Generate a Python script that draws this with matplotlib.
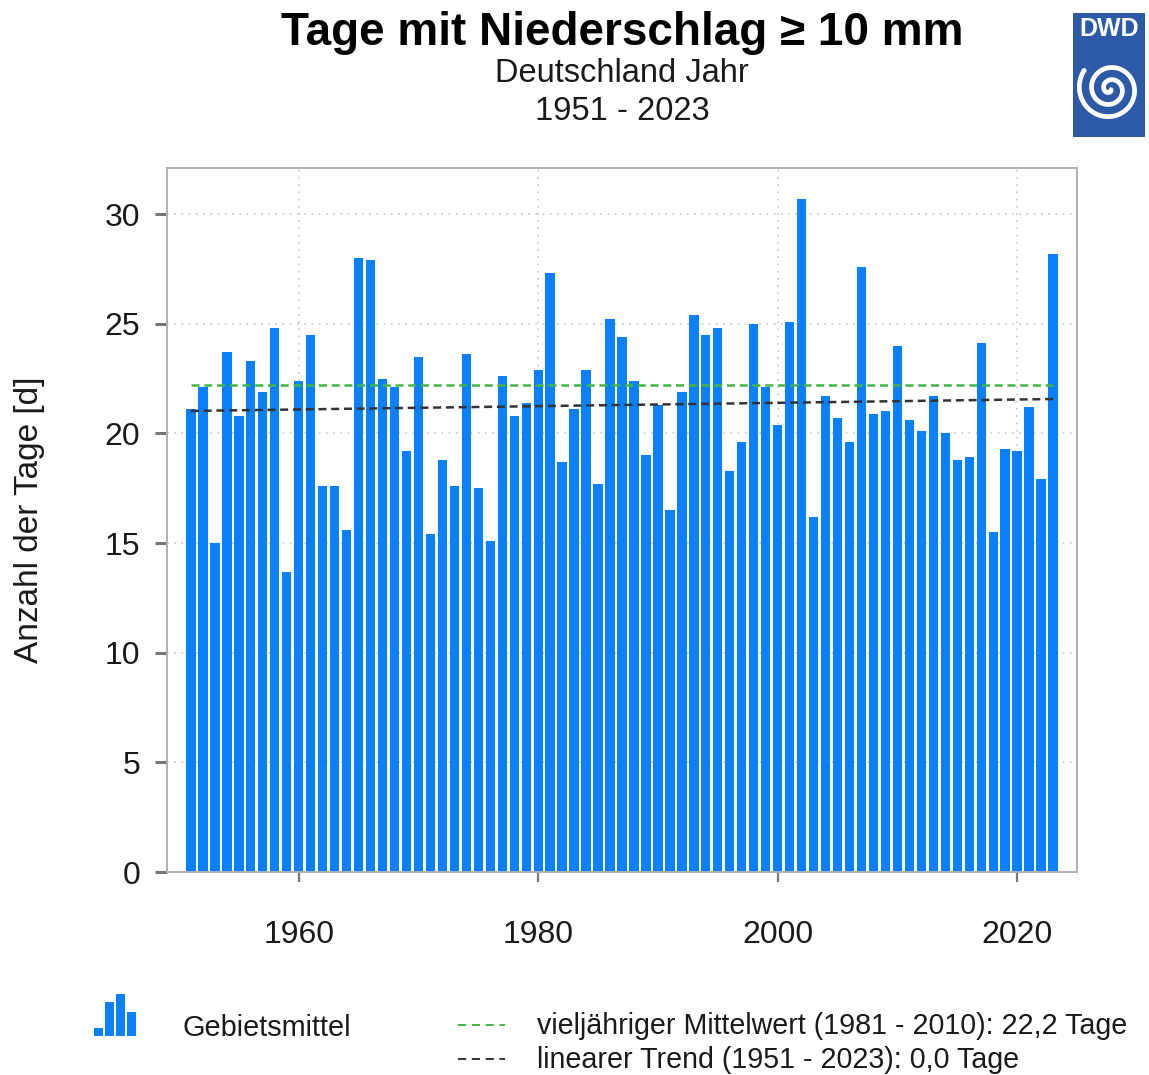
import numpy as np
import matplotlib.pyplot as plt
from matplotlib.patches import Rectangle
from matplotlib.lines import Line2D

plt.rcParams['font.family'] = ['Liberation Sans', 'DejaVu Sans']

# Tage mit Niederschlag >= 10 mm, Gebietsmittel Deutschland
years = np.arange(1951, 2024)
tage = [21.1, 22.1, 15.0, 23.7, 20.8, 23.3, 21.9, 24.8, 13.7, 22.4,
        24.5, 17.6, 17.6, 15.6, 28.0, 27.9, 22.5, 22.1, 19.2, 23.5,
        15.4, 18.8, 17.6, 23.6, 17.5, 15.1, 22.6, 20.8, 21.4, 22.9,
        27.3, 18.7, 21.1, 22.9, 17.7, 25.2, 24.4, 22.4, 19.0, 21.3,
        16.5, 21.9, 25.4, 24.5, 24.8, 18.3, 19.6, 25.0, 22.1, 20.4,
        25.1, 30.7, 16.2, 21.7, 20.7, 19.6, 27.6, 20.9, 21.0, 24.0,
        20.6, 20.1, 21.7, 20.0, 18.8, 18.9, 24.1, 15.5, 19.3, 19.2,
        21.2, 17.9, 28.2]
mittelwert = 22.2  # 1981 - 2010
yticks = [0, 5, 10, 15, 20, 25, 30]
xticks = [1960, 1980, 2000, 2020]

title = 'Tage mit Niederschlag ≥ 10 mm'
untertitel = 'Deutschland Jahr'
zeitraum = '1951 - 2023'
ylabel = 'Anzahl der Tage [d]'
leg_bar = 'Gebietsmittel'
leg_mittel = 'vieljähriger Mittelwert (1981 - 2010): 22,2 Tage'
leg_trend = 'linearer Trend (1951 - 2023): 0,0 Tage'

BLUE = '#0880ff'
GREEN = '#44b444'
DARK = '#333333'

W, H = 1149, 1075
fig = plt.figure(figsize=(W / 100, H / 100), dpi=100)


def box(x0, y0, x1, y1):
    # pixel box (origin top left) -> figure fraction
    return [x0 / W, 1 - y1 / H, (x1 - x0) / W, (y1 - y0) / H]


def fx(x):
    return x / W


def fy(y):
    return 1 - y / H


ax = fig.add_axes(box(167, 168, 1077, 872))
ax.bar(years, tage, width=0.78, color=BLUE, zorder=2)

# Mittelwert und linearer Trend
ax.plot([years[0], years[-1]], [mittelwert, mittelwert], color=GREEN,
        lw=1.8, ls=(0, (3.2, 1.9)), zorder=3)
k, d = np.polyfit(years, tage, 1)
ax.plot([years[0], years[-1]], [k * years[0] + d, k * years[-1] + d],
        color=DARK, lw=1.8, ls=(0, (3.2, 1.9)), zorder=3)

ax.set_xlim(1949, 2025)
ax.set_ylim(0, 32.1)
ax.set_xticks(xticks)
ax.set_yticks(yticks)
ax.set_axisbelow(True)
ax.grid(color='#cfcfcf', linestyle=(0, (1, 3)), lw=1.3)
for s in ax.spines.values():
    s.set_color('#b0b0b0')
    s.set_linewidth(1.4)
ax.tick_params(axis='y', length=8.6, width=2.2, color='#777777', pad=10.5,
               labelsize=23, labelcolor='#1a1a1a')
ax.tick_params(axis='x', length=7.5, width=1.6, color='#777777', pad=27,
               labelsize=23, labelcolor='#1a1a1a')

# Titel
cx = fx((167 + 1077) / 2)
fig.text(cx, fy(33), title, ha='center', va='center', fontsize=33,
         fontweight='bold', color='#000000')
fig.text(cx, fy(73), untertitel, ha='center', va='center', fontsize=23.5,
         color='#1a1a1a')
fig.text(cx, fy(112), zeitraum, ha='center', va='center', fontsize=23.5,
         color='#1a1a1a')
fig.text(fx(30), fy(520), ylabel, ha='center', va='center', rotation=90,
         fontsize=24, color='#1a1a1a')

# Legende
icon = fig.add_axes(box(93, 994, 137, 1036))
icon.bar([0, 1, 2, 3], [8, 32, 40, 23], width=0.8, color=BLUE)
icon.set_xlim(-0.45, 3.45)
icon.set_ylim(0, 40)
icon.axis('off')
fig.text(fx(183), fy(1028), leg_bar, ha='left', va='center', fontsize=20.8,
         color='#1a1a1a')

for yy, col, txt in [(1025, GREEN, leg_mittel), (1059, DARK, leg_trend)]:
    fig.add_artist(Line2D([fx(458), fx(505)], [fy(yy), fy(yy)], color=col,
                          lw=1.4, ls=(0, (4.2, 2.9))))
    fig.text(fx(537), fy(yy + 1), txt, ha='left', va='center',
             fontsize=20.6, color='#1a1a1a')

# DWD Logo
logo = fig.add_axes(box(1073, 13, 1145, 137))
logo.set_xlim(0, 72)
logo.set_ylim(124, 0)
logo.axis('off')
logo.add_patch(Rectangle((0, 0), 72, 124, color='#2d5aa8'))
logo.text(36, 16, 'DWD', ha='center', va='center', color='white',
          fontsize=18, fontweight='bold')
t = np.linspace(0.6, 2.6 * 2 * np.pi, 400)
r = 1.95 * t
logo.plot(37 + r * np.cos(t), 76 + r * np.sin(t), color='white', lw=3.4,
          solid_capstyle='round')

fig.savefig('out.png', dpi=100)
